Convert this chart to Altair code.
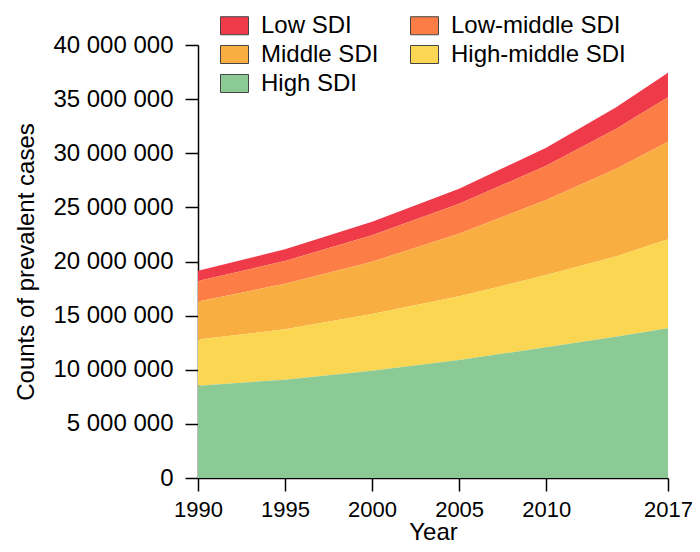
import altair as alt
import pandas as pd

years = [1990, 1995, 2000, 2005, 2010, 2014, 2017]
groups = ["Low SDI", "Low-middle SDI", "Middle SDI", "High-middle SDI", "High SDI"]
colors = ["#EF3A4A", "#FC7E46", "#F9AE42", "#FAD653", "#8BCA94"]

low = [950000, 1080000, 1260000, 1400000, 1660000, 1990000, 2270000]
low_middle = [1900000, 2100000, 2440000, 2760000, 3170000, 3700000, 4100000]
middle = [3500000, 4220000, 4830000, 5790000, 6930000, 8080000, 9020000]
high_middle = [4270000, 4650000, 5240000, 5880000, 6680000, 7410000, 8220000]
high = [8530000, 9080000, 9910000, 10900000, 12070000, 13050000, 13830000]

x_ticks = [1990, 1995, 2000, 2005, 2010, 2017]
y_ticks = [0, 5000000, 10000000, 15000000, 20000000, 25000000, 30000000, 35000000, 40000000]

series = {
    "Low SDI": low,
    "Low-middle SDI": low_middle,
    "Middle SDI": middle,
    "High-middle SDI": high_middle,
    "High SDI": high,
}
stack_rank = {"High SDI": 0, "High-middle SDI": 1, "Middle SDI": 2, "Low-middle SDI": 3, "Low SDI": 4}

rows = []
for g, vals in series.items():
    for yr, v in zip(years, vals):
        rows.append({"year": yr, "group": g, "value": v, "rank": stack_rank[g]})
df = pd.DataFrame(rows)

FONT = "Liberation Sans"
rect_path = "M-1,-0.643L1,-0.643L1,0.643L-1,0.643Z"

chart = alt.Chart(df).mark_area().encode(
    x=alt.X(
        "year:Q",
        scale=alt.Scale(domain=[1990, 2017], nice=False, zero=False),
        axis=alt.Axis(
            values=x_ticks, format="d", title="Year", grid=False,
            labelFont=FONT, labelFontSize=22, labelColor="black", labelPadding=8,
            labelFlush=False,
            titleFont=FONT, titleFontSize=24, titleFontWeight="normal", titleColor="black",
            titlePadding=0,
            tickSize=13, tickColor="black", tickWidth=1.5,
            domainColor="black", domainWidth=1.5,
        ),
    ),
    y=alt.Y(
        "value:Q",
        stack="zero",
        scale=alt.Scale(domain=[0, 40000000], nice=False),
        axis=alt.Axis(
            values=y_ticks, title="Counts of prevalent cases", grid=False,
            labelExpr="replace(replace(format(datum.value, ',d'), ',', ' '), ',', ' ')",
            labelFont=FONT, labelFontSize=24, labelColor="black", labelPadding=12,
            titleFont=FONT, titleFontSize=24, titleFontWeight="normal", titleColor="black",
            titlePadding=14,
            tickSize=13, tickColor="black", tickWidth=1.5,
            domainColor="black", domainWidth=1.5,
        ),
    ),
    color=alt.Color(
        "group:N",
        scale=alt.Scale(domain=groups, range=colors),
        legend=alt.Legend(
            title=None, orient="none", legendX=22, legendY=-34,
            columns=2, direction="horizontal",
            labelFont=FONT, labelFontSize=24, labelColor="black", labelLimit=300,
            labelOffset=12, rowPadding=2, columnPadding=29, padding=0,
            symbolType=rect_path, symbolSize=784,
            symbolStrokeColor="#444444", symbolStrokeWidth=1,
        ),
    ),
    order=alt.Order("rank:Q", sort="ascending"),
).properties(
    width=470,
    height=433,
    autosize=alt.AutoSizeParams(type="none"),
    padding={"left": 190, "top": 37, "right": 24, "bottom": 66},
).configure_view(stroke=None)

chart.save("out.html", embed_options={"renderer": "svg", "actions": False})
